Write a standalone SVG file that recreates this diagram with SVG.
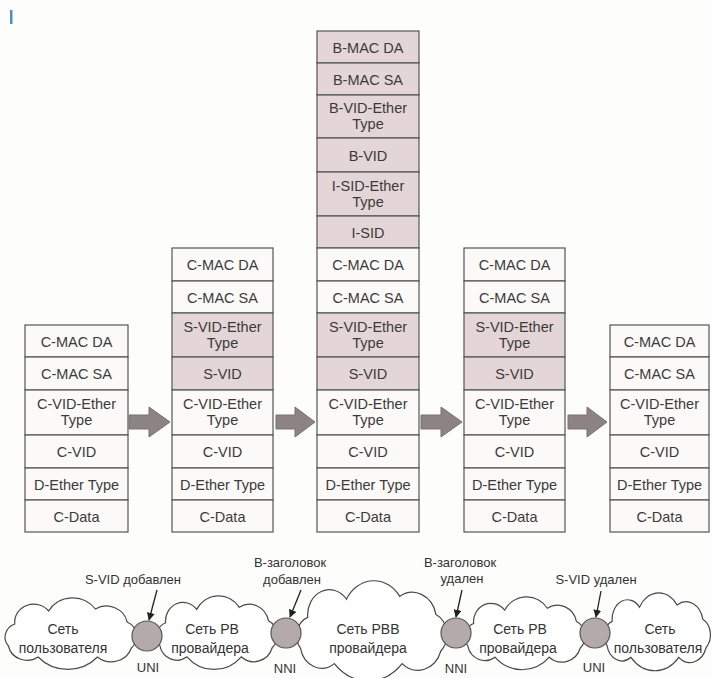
<svg xmlns="http://www.w3.org/2000/svg" xmlns:xlink="http://www.w3.org/1999/xlink" width="712" height="678" viewBox="0 0 712 678">
  <style>
    .w{fill:#fbfaf8;stroke:#555;stroke-width:1.2}
    .p{fill:#e4d6d6;stroke:#555;stroke-width:1.2}
    .t{font-family:"Liberation Sans",Arial,sans-serif;font-size:14.5px;fill:#3b3b3b;text-anchor:middle}
    .lbl{font-family:"Liberation Sans",Arial,sans-serif;font-size:13px;fill:#333;text-anchor:middle}
    .ct{font-family:"Liberation Sans",Arial,sans-serif;font-size:14px;fill:#333;text-anchor:middle}
    .arr{fill:#8d8284;stroke:#7a7072;stroke-width:1}
    .node{fill:#b5aaab;stroke:#555;stroke-width:1.2}
    .cloud{fill:#fff;stroke:#4a4a4a;stroke-width:1.2}
    .ptr{stroke:#222;stroke-width:1.3;fill:none}
  </style>
  <defs>
    <path id="cloudShape" vector-effect="non-scaling-stroke" d="M13,26 A18,18 0 0 1 45,13 A26,26 0 0 1 89,11 A20,20 0 0 1 119,24 A16,16 0 0 1 123,50 A20,20 0 0 1 91,59 A38,38 0 0 1 35,59 A18,18 0 0 1 7,48 A14,14 0 0 1 13,26 Z"/>
    <marker id="tri" viewBox="0 0 10 10" refX="9" refY="5" markerWidth="8" markerHeight="8" markerUnits="userSpaceOnUse" orient="auto">
      <path d="M0,0 L10,5 L0,10 Z" fill="#222"/>
    </marker>
  </defs>

  <rect width="712" height="678" fill="#fdfdfc"/>
  <rect x="10" y="10" width="2.5" height="14" fill="#4a90d0"/>

  <!-- frame 1: customer frame -->
  <g id="frame1">
    <rect class="w" x="25" y="325" width="103" height="32"/>
    <rect class="w" x="25" y="357" width="103" height="33"/>
    <rect class="w" x="25" y="390" width="103" height="45"/>
    <rect class="w" x="25" y="435" width="103" height="33"/>
    <rect class="w" x="25" y="468" width="103" height="32"/>
    <rect class="w" x="25" y="500" width="103" height="32"/>
    <text class="t" x="76.5" y="346.5">C-MAC DA</text>
    <text class="t" x="76.5" y="379">C-MAC SA</text>
    <text class="t" x="76.5" y="409">C-VID-Ether</text>
    <text class="t" x="76.5" y="425">Type</text>
    <text class="t" x="76.5" y="457">C-VID</text>
    <text class="t" x="76.5" y="489.5">D-Ether Type</text>
    <text class="t" x="76.5" y="521.5">C-Data</text>
  </g>

  <!-- frame 2: S-VID added -->
  <g id="frame2">
    <rect class="w" x="172" y="248" width="101" height="33"/>
    <rect class="w" x="172" y="281" width="101" height="32"/>
    <rect class="p" x="172" y="313" width="101" height="44"/>
    <rect class="p" x="172" y="357" width="101" height="33"/>
    <rect class="w" x="172" y="390" width="101" height="45"/>
    <rect class="w" x="172" y="435" width="101" height="33"/>
    <rect class="w" x="172" y="468" width="101" height="32"/>
    <rect class="w" x="172" y="500" width="101" height="32"/>
    <text class="t" x="222.5" y="270">C-MAC DA</text>
    <text class="t" x="222.5" y="302.5">C-MAC SA</text>
    <text class="t" x="222.5" y="331.5">S-VID-Ether</text>
    <text class="t" x="222.5" y="347.5">Type</text>
    <text class="t" x="222.5" y="379">S-VID</text>
    <text class="t" x="222.5" y="409">C-VID-Ether</text>
    <text class="t" x="222.5" y="425">Type</text>
    <text class="t" x="222.5" y="457">C-VID</text>
    <text class="t" x="222.5" y="489.5">D-Ether Type</text>
    <text class="t" x="222.5" y="521.5">C-Data</text>
  </g>

  <!-- frame 3: B-header added -->
  <g id="frame3">
    <rect class="p" x="317" y="31" width="102" height="32"/>
    <rect class="p" x="317" y="63" width="102" height="32"/>
    <rect class="p" x="317" y="95" width="102" height="43"/>
    <rect class="p" x="317" y="138" width="102" height="34"/>
    <rect class="p" x="317" y="172" width="102" height="44"/>
    <rect class="p" x="317" y="216" width="102" height="32"/>
    <rect class="w" x="317" y="248" width="102" height="33"/>
    <rect class="w" x="317" y="281" width="102" height="32"/>
    <rect class="p" x="317" y="313" width="102" height="44"/>
    <rect class="p" x="317" y="357" width="102" height="33"/>
    <rect class="w" x="317" y="390" width="102" height="45"/>
    <rect class="w" x="317" y="435" width="102" height="33"/>
    <rect class="w" x="317" y="468" width="102" height="32"/>
    <rect class="w" x="317" y="500" width="102" height="32"/>
    <text class="t" x="368" y="52.5">B-MAC DA</text>
    <text class="t" x="368" y="84.5">B-MAC SA</text>
    <text class="t" x="368" y="113">B-VID-Ether</text>
    <text class="t" x="368" y="129">Type</text>
    <text class="t" x="368" y="160.5">B-VID</text>
    <text class="t" x="368" y="190.5">I-SID-Ether</text>
    <text class="t" x="368" y="206.5">Type</text>
    <text class="t" x="368" y="237.5">I-SID</text>
    <text class="t" x="368" y="270">C-MAC DA</text>
    <text class="t" x="368" y="302.5">C-MAC SA</text>
    <text class="t" x="368" y="331.5">S-VID-Ether</text>
    <text class="t" x="368" y="347.5">Type</text>
    <text class="t" x="368" y="379">S-VID</text>
    <text class="t" x="368" y="409">C-VID-Ether</text>
    <text class="t" x="368" y="425">Type</text>
    <text class="t" x="368" y="457">C-VID</text>
    <text class="t" x="368" y="489.5">D-Ether Type</text>
    <text class="t" x="368" y="521.5">C-Data</text>
  </g>

  <!-- frame 4: B-header removed -->
  <g id="frame4">
    <rect class="w" x="464" y="248" width="101" height="33"/>
    <rect class="w" x="464" y="281" width="101" height="32"/>
    <rect class="p" x="464" y="313" width="101" height="44"/>
    <rect class="p" x="464" y="357" width="101" height="33"/>
    <rect class="w" x="464" y="390" width="101" height="45"/>
    <rect class="w" x="464" y="435" width="101" height="33"/>
    <rect class="w" x="464" y="468" width="101" height="32"/>
    <rect class="w" x="464" y="500" width="101" height="32"/>
    <text class="t" x="514.5" y="270">C-MAC DA</text>
    <text class="t" x="514.5" y="302.5">C-MAC SA</text>
    <text class="t" x="514.5" y="331.5">S-VID-Ether</text>
    <text class="t" x="514.5" y="347.5">Type</text>
    <text class="t" x="514.5" y="379">S-VID</text>
    <text class="t" x="514.5" y="409">C-VID-Ether</text>
    <text class="t" x="514.5" y="425">Type</text>
    <text class="t" x="514.5" y="457">C-VID</text>
    <text class="t" x="514.5" y="489.5">D-Ether Type</text>
    <text class="t" x="514.5" y="521.5">C-Data</text>
  </g>

  <!-- frame 5: customer frame restored -->
  <g id="frame5">
    <rect class="w" x="610" y="325" width="99" height="32"/>
    <rect class="w" x="610" y="357" width="99" height="33"/>
    <rect class="w" x="610" y="390" width="99" height="45"/>
    <rect class="w" x="610" y="435" width="99" height="33"/>
    <rect class="w" x="610" y="468" width="99" height="32"/>
    <rect class="w" x="610" y="500" width="99" height="32"/>
    <text class="t" x="659.5" y="346.5">C-MAC DA</text>
    <text class="t" x="659.5" y="379">C-MAC SA</text>
    <text class="t" x="659.5" y="409">C-VID-Ether</text>
    <text class="t" x="659.5" y="425">Type</text>
    <text class="t" x="659.5" y="457">C-VID</text>
    <text class="t" x="659.5" y="489.5">D-Ether Type</text>
    <text class="t" x="659.5" y="521.5">C-Data</text>
  </g>

  <!-- block arrows between frames, and pointers to the interfaces -->
  <g id="connectors">
    <polygon class="arr" points="129,415 149,415 149,407 170,422 149,437 149,429 129,429"/>
    <polygon class="arr" points="276,415 295,415 295,407 315,422 295,437 295,429 276,429"/>
    <polygon class="arr" points="421,415 441,415 441,407 462,422 441,437 441,429 421,429"/>
    <polygon class="arr" points="568,415 587,415 587,407 607,422 587,437 587,429 568,429"/>
    <line class="ptr" x1="157" y1="590" x2="149" y2="620" marker-end="url(#tri)"/>
    <line class="ptr" x1="301" y1="590" x2="290" y2="617" marker-end="url(#tri)"/>
    <line class="ptr" x1="462" y1="590" x2="456" y2="617" marker-end="url(#tri)"/>
    <line class="ptr" x1="601" y1="591" x2="596" y2="617" marker-end="url(#tri)"/>
  </g>

  <!-- networks -->
  <g id="net-customer-1">
    <use href="#cloudShape" class="cloud" transform="translate(1,598) scale(1.06,1)"/>
    <text class="ct" x="63" y="634">Сеть</text>
    <text class="ct" x="63" y="653">пользователя</text>
  </g>
  <g id="net-pb-1">
    <use href="#cloudShape" class="cloud" transform="translate(153,596) scale(0.97,1.03)"/>
    <text class="ct" x="212" y="634">Сеть PB</text>
    <text class="ct" x="210" y="653">провайдера</text>
  </g>
  <g id="net-pbb">
    <use href="#cloudShape" class="cloud" transform="translate(292,581) scale(1.21,1.4)"/>
    <text class="ct" x="368" y="634">Сеть PBB</text>
    <text class="ct" x="368" y="653">провайдера</text>
  </g>
  <g id="net-pb-2">
    <use href="#cloudShape" class="cloud" transform="translate(461,597) scale(0.97,1.02)"/>
    <text class="ct" x="520" y="634">Сеть PB</text>
    <text class="ct" x="518" y="653">провайдера</text>
  </g>
  <g id="net-customer-2">
    <use href="#cloudShape" class="cloud" transform="translate(601,593) scale(0.855,1.09)"/>
    <text class="ct" x="660" y="634">Сеть</text>
    <text class="ct" x="658" y="653">пользователя</text>
  </g>

  <!-- interfaces -->
  <g id="uni-1">
    <circle class="node" cx="147" cy="636" r="15"/>
    <text class="lbl" x="148" y="672">UNI</text>
    <text class="lbl" x="133" y="584">S-VID добавлен</text>
  </g>
  <g id="nni-1">
    <circle class="node" cx="286" cy="633" r="15"/>
    <text class="lbl" x="285" y="673">NNI</text>
    <text class="lbl" x="290" y="567">B-заголовок</text>
    <text class="lbl" x="292" y="584">добавлен</text>
  </g>
  <g id="nni-2">
    <circle class="node" cx="456" cy="633" r="15"/>
    <text class="lbl" x="456" y="673">NNI</text>
    <text class="lbl" x="460" y="567">B-заголовок</text>
    <text class="lbl" x="462" y="583">удален</text>
  </g>
  <g id="uni-2">
    <circle class="node" cx="595" cy="633" r="15"/>
    <text class="lbl" x="594" y="672">UNI</text>
    <text class="lbl" x="596" y="584">S-VID удален</text>
  </g>
</svg>
